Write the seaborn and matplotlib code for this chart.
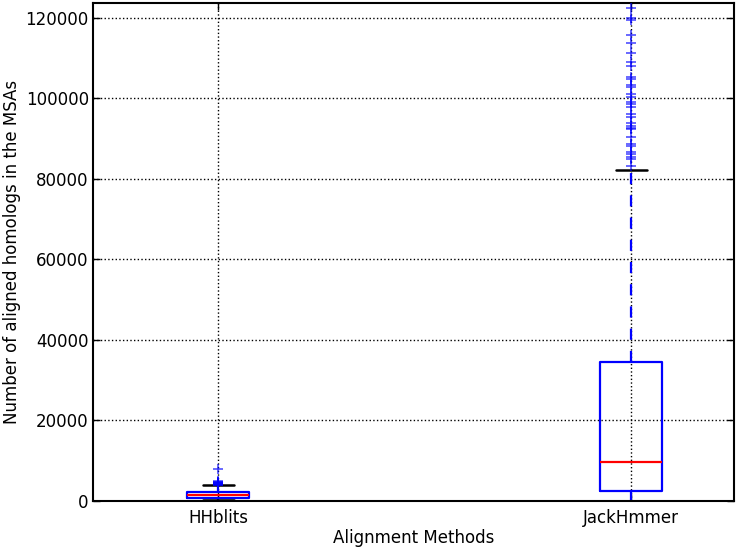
import numpy as np
import pandas as pd
import seaborn as sns
import matplotlib.pyplot as plt

# box summary values: low whisker, q1, median, q3, high whisker
methods = ["HHblits", "JackHmmer"]
hhblits_box = [150, 670, 1490, 2160, 3950]
jackhmmer_box = [120, 2550, 9700, 34500, 82300]

# outliers drawn as '+'
hhblits_fliers = [3950, 4050, 4150, 4250, 4350, 4450, 4550, 4650, 4750, 4850, 8000]
jackhmmer_fliers = [122400, 119900, 119500, 115800, 113700, 111400, 109100, 108100,
                    105300, 104800, 103400, 102800, 101100, 100300, 99100, 98600,
                    97800, 96100, 95500, 94000, 93200, 92700, 92300, 90300, 88700,
                    88300, 86800, 86200, 85500, 84900, 83300]

box_df = pd.DataFrame({
    "method": [methods[0]] * len(hhblits_box) + [methods[1]] * len(jackhmmer_box),
    "count": hhblits_box + jackhmmer_box,
})
flier_df = pd.DataFrame({
    "method": [methods[0]] * len(hhblits_fliers) + [methods[1]] * len(jackhmmer_fliers),
    "count": hhblits_fliers + jackhmmer_fliers,
})

sns.set_theme(style="white")
plt.rcParams['font.family'] = ['DejaVu Sans']

fig = plt.figure(figsize=(7.38, 5.5), dpi=100)
ax = fig.add_axes([93 / 738, 49 / 550, 641 / 738, 498 / 550])

sns.boxplot(data=box_df, x="method", y="count", order=methods, ax=ax,
            width=0.15, fill=False, showfliers=False, whis=1.5,
            boxprops=dict(color="blue", linewidth=1.6),
            whiskerprops=dict(color="blue", linestyle=(0, (5, 5)), linewidth=1.6),
            capprops=dict(color="black", linewidth=1.8),
            medianprops=dict(color="red", linewidth=1.6))

sns.stripplot(data=flier_df, x="method", y="count", order=methods, ax=ax,
              jitter=False, marker="+", color="blue", size=7, linewidth=1.1,
              alpha=0.75)

ax.set_xlim(-0.303, 1.249)
ax.set_ylim(0, 123700)
ax.set_yticks(np.arange(0, 120001, 20000))
ax.set_yticklabels([str(v) for v in range(0, 120001, 20000)])
ax.grid(True, linestyle=":", color="black", linewidth=1)
ax.set_axisbelow(True)

for sp in ax.spines.values():
    sp.set_visible(True)
    sp.set_color("black")
    sp.set_linewidth(1.5)

ax.tick_params(axis="both", direction="in", length=5, width=1, color="black",
               labelsize=12, top=True, right=True, bottom=True, left=True,
               labelcolor="black", pad=3)
ax.tick_params(axis="x", pad=6)

ax.set_xlabel("Alignment Methods", fontsize=12, color="black", labelpad=1)
ax.set_ylabel("Number of aligned homologs in the MSAs", fontsize=12,
              color="black", labelpad=3)

fig.savefig("out.png", dpi=100)
